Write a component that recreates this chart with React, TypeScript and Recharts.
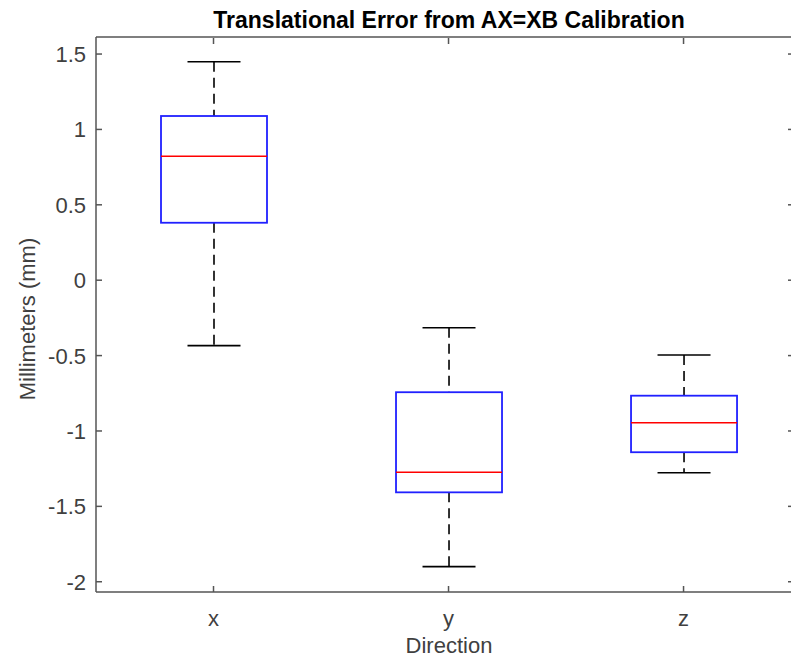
import { ComposedChart, Bar, XAxis, YAxis } from 'recharts'

const categories = ['x', 'y', 'z']
const positions = [1, 2, 3]
const whiskerHigh = [1.449, -0.315, -0.496]
const upperQuartile = [1.089, -0.743, -0.766]
const medians = [0.822, -1.274, -0.945]
const lowerQuartile = [0.381, -1.407, -1.141]
const whiskerLow = [-0.434, -1.9, -1.277]
const yTicks = [-2, -1.5, -1, -0.5, 0, 0.5, 1, 1.5]

const data = categories.map((name, i) => ({
  name,
  pos: positions[i],
  min: whiskerLow[i],
  q1: lowerQuartile[i],
  median: medians[i],
  q3: upperQuartile[i],
  max: whiskerHigh[i],
}))

const AXIS = '#555'
const TEXT = '#404040'
const FONT = '"Liberation Sans", Arial, sans-serif'

function BoxShape(props: any) {
  const { x, y, width, height, payload } = props
  const top = Math.min(y, y + height)
  const bot = Math.max(y, y + height)
  const k = (bot - top) / (payload.max - payload.min)
  const yOf = (v: number) => top + (payload.max - v) * k
  const cx = x + width / 2
  const cap = width / 4
  const q3 = yOf(payload.q3)
  const q1 = yOf(payload.q1)
  const med = yOf(payload.median)
  return (
    <g>
      <line x1={cx} x2={cx} y1={top} y2={q3} stroke="#000" strokeWidth={1.6} strokeDasharray="10 6" />
      <line x1={cx} x2={cx} y1={q1} y2={bot} stroke="#000" strokeWidth={1.6} strokeDasharray="10 6" />
      <line x1={cx - cap} x2={cx + cap} y1={top} y2={top} stroke="#000" strokeWidth={1.6} />
      <line x1={cx - cap} x2={cx + cap} y1={bot} y2={bot} stroke="#000" strokeWidth={1.6} />
      <rect x={x} y={q3} width={width} height={q1 - q3} fill="none" stroke="#2020ff" strokeWidth={1.8} />
      <line x1={x} x2={x + width} y1={med} y2={med} stroke="#ff0000" strokeWidth={1.4} />
    </g>
  )
}

function LeftTick(props: any) {
  const { x, y, payload } = props
  return (
    <g>
      <line x1={x + 10} x2={x + 16} y1={y} y2={y} stroke={AXIS} strokeWidth={1.5} />
      <text x={x} y={y} dy="0.36em" textAnchor="end" fill={TEXT} fontSize={22} fontFamily={FONT}>
        {String(payload.value)}
      </text>
    </g>
  )
}

function RightTick(props: any) {
  const { x, y } = props
  return <line x1={x - 6} x2={x} y1={y} y2={y} stroke={AXIS} strokeWidth={1.5} />
}

function BottomTick(props: any) {
  const { x, y, payload } = props
  return (
    <g>
      <line x1={x} x2={x} y1={y - 18} y2={y - 24} stroke={AXIS} strokeWidth={1.5} />
      <text x={x} y={y + 16} textAnchor="middle" fill={TEXT} fontSize={22} fontFamily={FONT}>
        {categories[positions.indexOf(payload.value)]}
      </text>
    </g>
  )
}

function TopTick(props: any) {
  const { x, y } = props
  return <line x1={x} x2={x} y1={y + 1} y2={y + 7} stroke={AXIS} strokeWidth={1.5} />
}

export default function App() {
  return (
    <div style={{ position: 'absolute', left: 0, top: 0, width: 791, height: 659, overflow: 'hidden', background: '#fff' }}>
      <ComposedChart width={800} height={659} data={data} margin={{ top: 36, right: 0, bottom: 0, left: 0 }}>
        <XAxis
          dataKey="pos"
          type="number"
          domain={[0.5, 3.47]}
          ticks={positions}
          allowDataOverflow
          height={67}
          tickSize={0}
          tickMargin={18}
          tickLine={false}
          stroke={AXIS}
          strokeWidth={1.5}
          tick={<BottomTick />}
        />
        <XAxis
          xAxisId="top"
          dataKey="pos"
          type="number"
          orientation="top"
          domain={[0.5, 3.47]}
          ticks={positions}
          allowDataOverflow
          height={1}
          tickSize={0}
          tickMargin={0}
          tickLine={false}
          stroke={AXIS}
          strokeWidth={1.5}
          tick={<TopTick />}
        />
        <YAxis
          type="number"
          domain={[-2.068, 1.613]}
          ticks={yTicks}
          allowDataOverflow
          width={96}
          tickSize={0}
          tickMargin={10}
          tickLine={false}
          stroke={AXIS}
          strokeWidth={1.5}
          tick={<LeftTick />}
        />
        <YAxis
          yAxisId="right"
          orientation="right"
          type="number"
          domain={[-2.068, 1.613]}
          ticks={yTicks}
          allowDataOverflow
          width={6}
          tickSize={0}
          tickMargin={0}
          tickLine={false}
          axisLine={false}
          tick={<RightTick />}
        />
        <Bar
          dataKey={(d: any) => [d.min, d.max]}
          barSize={106}
          shape={<BoxShape />}
          isAnimationActive={false}
        />
      </ComposedChart>
      <svg width={791} height={659} style={{ position: 'absolute', left: 0, top: 0, pointerEvents: 'none' }}>
        <text x={449} y={28} textAnchor="middle" fontSize={23} fontWeight="bold" fill="#000" fontFamily={FONT}>
          Translational Error from AX=XB Calibration
        </text>
        <text x={449} y={653} textAnchor="middle" fontSize={22} fill={TEXT} fontFamily={FONT}>
          Direction
        </text>
        <text
          transform="translate(35,319) rotate(-90)"
          textAnchor="middle"
          fontSize={22}
          fill={TEXT}
          fontFamily={FONT}
        >
          Millimeters (mm)
        </text>
      </svg>
    </div>
  )
}
